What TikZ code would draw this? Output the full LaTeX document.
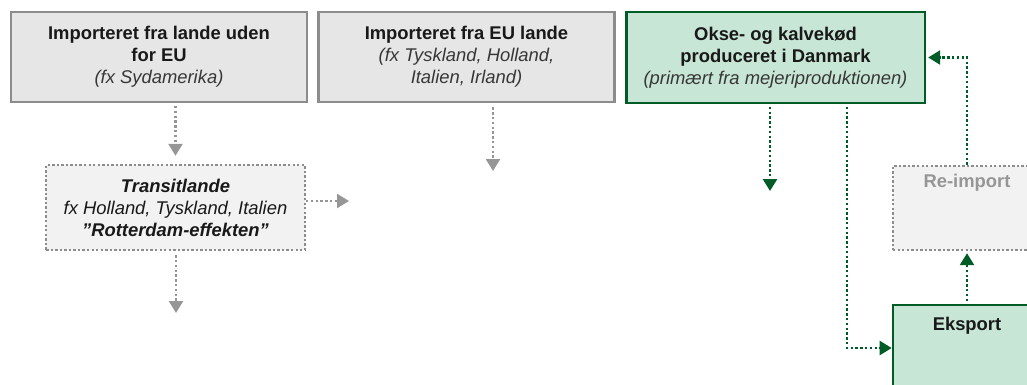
\documentclass[tikz,border=0pt]{standalone}
\usepackage{fontspec}
\setmainfont{Liberation Sans}
\usetikzlibrary{arrows.meta,positioning}
\definecolor{dkgreen}{RGB}{0,92,38}
\definecolor{ltgreen}{RGB}{200,230,213}
\definecolor{boxgray}{RGB}{230,230,230}
\definecolor{edgegray}{RGB}{140,140,140}
\definecolor{arrgray}{RGB}{150,150,150}
\definecolor{transgray}{RGB}{242,242,242}
\definecolor{txtdark}{RGB}{25,25,25}
\definecolor{txtital}{RGB}{55,55,55}

\begin{document}
\begin{tikzpicture}
    [x=0.75pt,y=-0.75pt,font=\fontsize{13.8}{16.5}\selectfont,
     txt/.style={align=center,text=txtdark,inner sep=0pt},
     impbox/.style={draw=edgegray,fill=boxgray,line width=2pt,txt,
       minimum width=222pt,minimum height=67.5pt},
     dkbox/.style={draw=dkgreen,fill=ltgreen,line width=2pt,txt,
       minimum width=224pt,minimum height=68pt},
     dotbox/.style={draw=edgegray,fill=transgray,line width=1.8pt,
       dash pattern=on 1.8pt off 1.6pt,txt},
     grayarr/.style={draw=arrgray,line width=1.8pt,dash pattern=on 1.8pt off 1.8pt,
       -{Triangle[length=9pt,width=10.5pt]}},
     greenarr/.style={draw=dkgreen,line width=1.8pt,dash pattern=on 1.8pt off 1.8pt,
       -{Triangle[length=9pt,width=10.5pt]}}]
    \useasboundingbox (0,0) rectangle (1027,385);
    \clip (0,0) rectangle (1027,385);

    % top row
    \node (ikkeeu) [impbox] at (159,57)
      {\textbf{Importeret fra lande uden}\\\textbf{for EU}\\
       \textcolor{txtital}{\itshape (fx Sydamerika)}};
    \node (euimp) [impbox] at (466.5,57)
      {\textbf{Importeret fra EU lande}\\
       \textcolor{txtital}{\itshape (fx Tyskland, Holland,}\\
       \textcolor{txtital}{\itshape Italien, Irland)}};
    \node (dk) [dkbox] at (775.5,57.5)
      {\textbf{Okse- og kalvekød}\\\textbf{produceret i Danmark}\\
       \textcolor{txtital}{\itshape (primært fra mejeriproduktionen)}};

    % transit and right column
    \node (transit) [dotbox,minimum width=194pt,minimum height=63.75pt] at (175.5,207.5)
      {\textbf{\itshape Transitlande}\\\itshape fx Holland, Tyskland, Italien\\
       \textbf{\itshape ”Rotterdam-effekten”}};
    \node (reimport) [dotbox,minimum width=111pt,minimum height=63pt] at (967,208) {};
    \node (reimplab) [below=7pt of reimport.north,txt,text=arrgray] {\textbf{Re-import}};
    \node (eksport) [dkbox,minimum width=111pt,minimum height=90pt] at (967,365) {};
    \node (ekslab) [below=10pt of eksport.north,txt] {\textbf{Eksport}};

    % free ends
    \coordinate (trout) at (349,201);
    \coordinate (trdown) at (176,313);
    \coordinate (eudown) at (493,171);
    \coordinate (dkdown) at (770,191);
    \coordinate (dkexp) at (847,348);

    \draw[grayarr,shorten <=2pt,shorten >=6pt] (ikkeeu.south -| transit) -- (transit);
    \draw[grayarr] (transit.east |- trout) -- (trout);
    \draw[grayarr,shorten <=3pt] (transit.south -| trdown) -- (trdown);
    \draw[grayarr,shorten <=3pt] (euimp.south -| eudown) -- (eudown);
    \draw[greenarr,shorten <=2pt] (dk.south -| dkdown) -- (dkdown);
    \draw[greenarr,shorten <=2pt] (dk.south -| dkexp) |- (eksport.west |- dkexp);
    \draw[greenarr,shorten <=2pt,shorten >=1.5pt] (eksport) -- (reimport);
    \draw[greenarr,shorten >=1.5pt] (reimport.north) |- (dk.east);
\end{tikzpicture}
\end{document}
